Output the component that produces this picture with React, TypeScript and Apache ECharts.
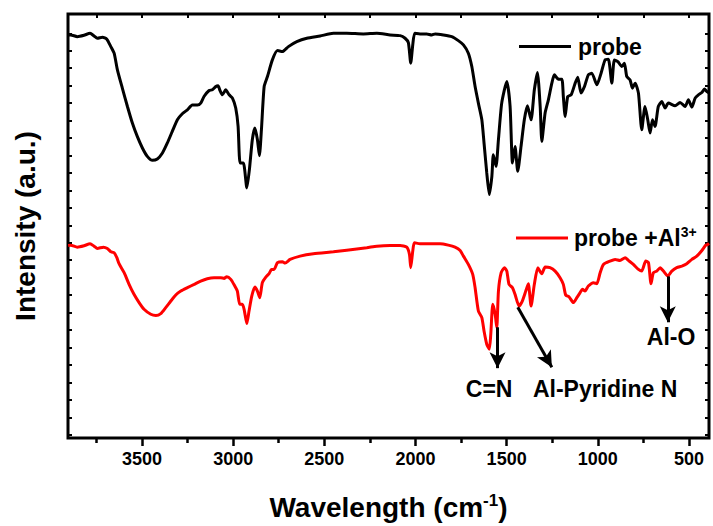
import React, { useEffect, useRef } from 'react';
import * as echarts from 'echarts';

const FONT = '"Liberation Sans", Arial, Helvetica, sans-serif';

// x axis (wavenumber, cm-1), reversed
const X_MIN = 390;
const X_MAX = 3906;
const xTickValues = [500, 1000, 1500, 2000, 2500, 3000, 3500];
const xMinorValues = [750, 1250, 1750, 2250, 2750, 3250, 3750];
const xTopValues = [500, 750, 1000, 1250, 1500, 1750, 2000, 2250, 2500, 2750, 3000, 3250, 3500, 3750];

// y axis (arbitrary intensity units)
const Y_MIN = 0;
const Y_MAX = 425;
const yTickValues = Array.from({ length: 24 }, (_, i) => 3.2 + 17.5 * i);

const probeX = [3905, 3891, 3855, 3818, 3785, 3763, 3745, 3717, 3693, 3671,
  3653, 3635, 3608, 3580, 3553, 3526, 3498, 3471, 3443, 3416,
  3388, 3361, 3334, 3306, 3279, 3251, 3224, 3196, 3178, 3160,
  3132, 3114, 3095, 3083, 3072, 3059, 3041, 3022, 3004, 2986,
  2973, 2962, 2944, 2925, 2911, 2895, 2881, 2867, 2856, 2845,
  2830, 2812, 2785, 2757, 2730, 2697, 2651, 2596, 2523, 2450,
  2377, 2286, 2212, 2139, 2084, 2057, 2039, 2026, 2015, 2004,
  1975, 1938, 1911, 1892, 1847, 1801, 1765, 1737, 1710, 1691,
  1673, 1655, 1636, 1624, 1609, 1595, 1581, 1573, 1558, 1545,
  1527, 1499, 1481, 1468, 1454, 1439, 1421, 1403, 1386, 1366,
  1348, 1331, 1316, 1307, 1289, 1271, 1252, 1238, 1216, 1197,
  1189, 1179, 1165, 1146, 1124, 1110, 1092, 1073, 1052, 1033,
  1005, 982, 960, 942, 923, 909, 890, 868, 854, 841,
  823, 810, 795, 777, 759, 741, 726, 713, 700, 686,
  668, 649, 631, 613, 576, 549, 521, 503, 484, 466,
  448, 429, 415, 402, 390];
const probeY = [404, 404, 402.3, 403.7, 405.7, 403, 400.7, 401.7, 399.7, 392.3,
  385.7, 369, 350.7, 332.3, 315.7, 302.3, 290.7, 282.3, 278.3, 279.7,
  285.7, 295.7, 307.3, 319, 325, 329, 333.7, 333.7, 335.7, 342.3,
  348.3, 349, 352.3, 353, 348.3, 344, 349, 344, 340.7, 330.7,
  312.3, 275.7, 275.7, 250.7, 269, 299, 310.7, 299, 283, 309,
  352.3, 362.3, 379, 388.3, 387.3, 392.3, 397.3, 400.7, 403, 405.7,
  405.7, 405, 405.7, 404, 403.3, 400.7, 396.3, 375.7, 394, 405.7,
  405, 405, 404, 405, 404, 402.3, 398.3, 394, 385.7, 372.3,
  352.3, 335.7, 319, 295.7, 265.7, 244, 262.3, 284, 272.3, 299,
  335.7, 357.3, 332.3, 275.7, 292.3, 267.3, 292.3, 319, 333, 319,
  349, 366.3, 332.3, 297.3, 325.7, 339, 355.7, 364, 359.7, 359.7,
  342.3, 322.3, 342.3, 344, 355.7, 361.7, 345.7, 352.3, 364, 365.7,
  354, 365.7, 379, 379.7, 355.7, 379, 377.3, 372.3, 375.7, 362.3,
  359, 350.7, 355.7, 345.7, 309, 332.3, 319, 305.7, 319, 312.3,
  332.3, 337.3, 330.7, 335.7, 333, 336.3, 332.3, 339, 331.7, 340.7,
  344, 346.3, 349.7, 347.3, 346];

const alX = [3905, 3891, 3855, 3818, 3785, 3763, 3745, 3712, 3690, 3671,
  3653, 3638, 3626, 3598, 3571, 3544, 3516, 3489, 3452, 3424,
  3397, 3370, 3342, 3315, 3287, 3251, 3214, 3178, 3142, 3105,
  3068, 3050, 3035, 3013, 2991, 2977, 2964, 2950, 2940, 2925,
  2913, 2898, 2881, 2867, 2854, 2840, 2821, 2803, 2790, 2776,
  2757, 2730, 2715, 2688, 2633, 2560, 2450, 2377, 2267, 2212,
  2139, 2084, 2048, 2033, 2026, 2015, 2006, 1975, 1920, 1865,
  1820, 1783, 1755, 1737, 1710, 1686, 1673, 1655, 1636, 1624,
  1609, 1595, 1587, 1576, 1563, 1554, 1545, 1530, 1512, 1499,
  1487, 1468, 1454, 1432, 1414, 1395, 1381, 1366, 1348, 1329,
  1307, 1289, 1262, 1234, 1207, 1189, 1176, 1157, 1134, 1115,
  1097, 1084, 1070, 1052, 1024, 1005, 987, 969, 933, 905,
  878, 850, 832, 805, 777, 759, 737, 722, 708, 695,
  676, 658, 640, 616, 594, 567, 539, 512, 484, 457,
  429, 408, 397, 390];
const alY = [193, 193.3, 191.3, 192.7, 194.7, 192.3, 190, 191.3, 190, 186.7,
  185.7, 180.7, 174.7, 165.7, 154, 144, 135.7, 129, 124, 122.7,
  124.7, 130.7, 137.3, 143.3, 147.3, 150.7, 154, 157.3, 159.7, 160.7,
  160.7, 160, 161.7, 159, 152.3, 147.3, 134, 134, 129, 114.7,
  127.3, 142.3, 151.3, 147.3, 140.7, 155.7, 161.3, 164.7, 169, 169,
  175.7, 176.7, 175.3, 179, 182.3, 184.7, 186.7, 188.3, 190.7, 192.3,
  193, 193, 191.3, 184, 170.7, 187.3, 195.7, 194.7, 194.7, 194.7,
  193.3, 191.3, 188, 182.3, 174, 164, 150.7, 127.3, 120.7, 107.3,
  94, 89, 104, 134, 124, 110.7, 147.3, 165.7, 170.7, 167.3,
  154, 150.7, 144, 132.3, 137.3, 147.3, 154.7, 132.3, 154, 170.7,
  164.7, 171.3, 170.7, 167.3, 160.7, 154, 143.3, 141.3, 135.7, 140.7,
  145.7, 149, 147.3, 152.3, 155.7, 154.7, 165.7, 174, 177.3, 179,
  178, 180.7, 178, 174, 169, 167.3, 177.3, 175.7, 154.7, 165.7,
  167.3, 170.7, 167.3, 162.3, 167.3, 170.7, 172.3, 174.7, 179, 182.3,
  188, 193.3, 194, 195];

// annotation arrows: [fromX, fromY, toX, toY] in data units
const arrowFrom = [[1550, 111], [1439, 131], [616, 162]];
const arrowTo = [[1550, 70], [1252, 71], [616, 116]];
const annotationNames = ['C=N', 'Al-Pyridine N', 'Al-O'];
const annotationPos = [[1596, 49], [960, 49], [598, 101]];

const SERIES_PROBE = 'probe';
const SERIES_AL = 'probe +Al3+';

export default function App() {
  const ref = useRef<HTMLDivElement>(null);

  useEffect(() => {
    if (!ref.current) return;
    const chart = echarts.init(ref.current, undefined, { renderer: 'svg' });

    const tickAxisBase = {
      type: 'value' as const,
      min: X_MIN,
      max: X_MAX,
      inverse: true,
      axisLine: { show: false },
      splitLine: { show: false },
    };

    chart.setOption({
      animation: false,
      backgroundColor: '#ffffff',
      grid: {
        left: 68, right: 4, top: 14, bottom: 87,
        show: true, borderColor: '#000', borderWidth: 3, backgroundColor: 'transparent',
        containLabel: false,
      },
      xAxis: [
        {
          ...tickAxisBase,
          position: 'bottom',
          axisTick: { show: true, inside: false, length: 8, customValues: xTickValues, lineStyle: { color: '#000', width: 2.5 } },
          axisLabel: {
            show: true, customValues: xTickValues, margin: 12, color: '#000', fontSize: 18, fontWeight: 'bold', fontFamily: FONT,
            formatter: (v: number) => String(v),
          },
          name: '{a|Wavelength (cm}{b|-1}{a|)}',
          nameLocation: 'middle',
          nameGap: 54,
          nameTextStyle: {
            rich: {
              a: { fontSize: 28, fontWeight: 'bold', fontFamily: FONT, color: '#000', lineHeight: 30 },
              b: { fontSize: 17, fontWeight: 'bold', fontFamily: FONT, color: '#000', lineHeight: 17, verticalAlign: 'top' },
            },
          },
        },
        {
          ...tickAxisBase,
          position: 'bottom',
          axisLabel: { show: false },
          axisTick: { show: true, inside: false, length: 5, customValues: xMinorValues, lineStyle: { color: '#000', width: 2.5 } },
        },
        {
          ...tickAxisBase,
          position: 'top',
          axisLabel: { show: false },
          axisTick: { show: true, inside: true, length: 4, customValues: xTopValues, lineStyle: { color: '#000', width: 2 } },
        },
      ],
      yAxis: [
        {
          type: 'value', min: Y_MIN, max: Y_MAX, position: 'left',
          axisLine: { show: false }, splitLine: { show: false }, axisLabel: { show: false },
          axisTick: { show: true, inside: true, length: 4, customValues: yTickValues, lineStyle: { color: '#000', width: 2 } },
          name: 'Intensity (a.u.)',
          nameLocation: 'middle',
          nameGap: 29,
          nameRotate: 90,
          nameTextStyle: { fontSize: 28, fontWeight: 'bold', fontFamily: FONT, color: '#000' },
        },
        {
          type: 'value', min: Y_MIN, max: Y_MAX, position: 'right',
          axisLine: { show: false }, splitLine: { show: false }, axisLabel: { show: false },
          axisTick: { show: true, inside: true, length: 4, customValues: yTickValues, lineStyle: { color: '#000', width: 2 } },
        },
      ],
      legend: [
        {
          data: [SERIES_PROBE],
          left: 514, top: 30,
          icon: 'rect', itemWidth: 52, itemHeight: 3,
          textStyle: { fontSize: 23, fontWeight: 'bold', fontFamily: FONT, color: '#000', padding: [0, 0, 0, 2] },
        },
        {
          data: [SERIES_AL],
          left: 511, top: 220,
          icon: 'rect', itemWidth: 52, itemHeight: 3,
          formatter: () => '{a|probe +Al}{b|3+}',
          textStyle: {
            fontSize: 23, fontWeight: 'bold', fontFamily: FONT, color: '#000', padding: [0, 0, 0, 1],
            rich: {
              a: { fontSize: 23, fontWeight: 'bold', fontFamily: FONT, color: '#000', lineHeight: 26 },
              b: { fontSize: 14, fontWeight: 'bold', fontFamily: FONT, color: '#000', lineHeight: 14, verticalAlign: 'top' },
            },
          },
        },
      ],
      series: [
        {
          name: SERIES_PROBE,
          type: 'line',
          xAxisIndex: 0, yAxisIndex: 0,
          data: probeX.map((x, i) => [x, probeY[i]]),
          showSymbol: false,
          smooth: 0.2,
          lineStyle: { color: '#000', width: 3 },
          itemStyle: { color: '#000' },
        },
        {
          name: SERIES_AL,
          type: 'line',
          xAxisIndex: 0, yAxisIndex: 0,
          data: alX.map((x, i) => [x, alY[i]]),
          showSymbol: false,
          smooth: 0.2,
          lineStyle: { color: '#ff0000', width: 3 },
          itemStyle: { color: '#ff0000' },
          markLine: {
            silent: true,
            symbol: ['none', 'arrow'],
            symbolSize: [12, 16],
            label: { show: false },
            lineStyle: { color: '#000', width: 3, type: 'solid' },
            data: arrowFrom.map((f, i) => [{ coord: f }, { coord: arrowTo[i] }]),
          },
          markPoint: {
            silent: true,
            symbol: 'rect',
            symbolSize: 1,
            itemStyle: { color: 'rgba(0,0,0,0)' },
            label: { show: true, position: 'inside', formatter: '{b}', fontSize: 23, fontWeight: 'bold', fontFamily: FONT, color: '#000' },
            data: annotationNames.map((n, i) => ({ name: n, coord: annotationPos[i] })),
          },
        },
      ],
    });

    return () => chart.dispose();
  }, []);

  return <div ref={ref} style={{ position: 'absolute', left: 0, top: 0, width: 713, height: 526 }} />;
}
